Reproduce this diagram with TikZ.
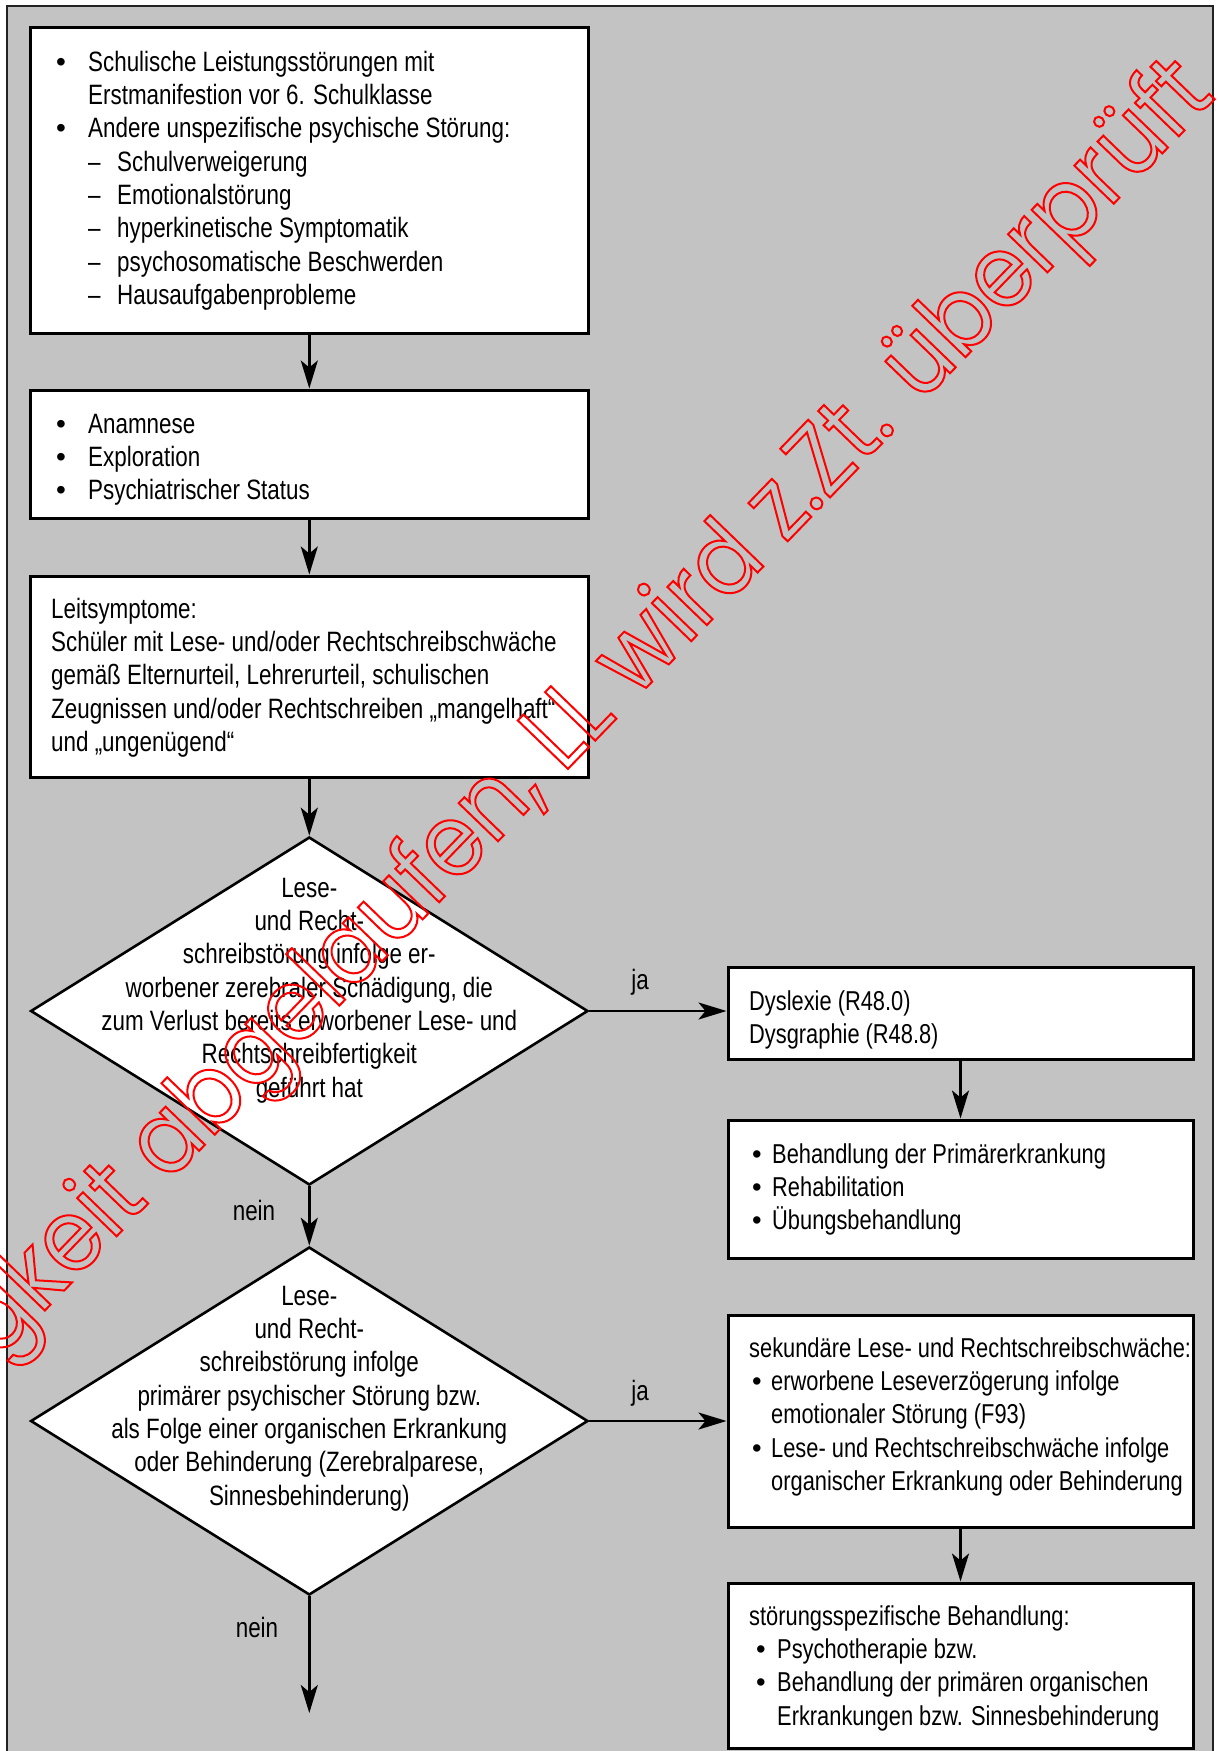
\documentclass[tikz,border=0pt]{standalone}
\usepackage{fontspec}
\setmainfont{Liberation Sans}[FakeStretch=0.8]
\newfontfamily\bulfont{Liberation Sans}
\newfontfamily\wmfont{Poppins}[FakeStretch=0.91]
\usetikzlibrary{shapes.geometric,arrows.meta}
\definecolor{bg}{RGB}{195,195,195}
\definecolor{wmred}{RGB}{255,0,0}
\definecolor{frm}{RGB}{34,34,34}
\newcommand\bul[1]{\makebox[#1][l]{\bulfont •}}
\newcommand\dsh[1]{\makebox[#1][l]{–}}
\tikzset{
 box/.style={draw=black, line width=3pt, fill=white, inner sep=0pt, minimum width=557.4pt},
 rbox/.style={draw=black, line width=3pt, fill=white, inner sep=0pt, minimum width=465pt},
 dia/.style={diamond, draw=black, line width=2.6pt, fill=white, inner sep=0pt, minimum width=557.4pt, minimum height=348pt},
 txt/.style={inner sep=0pt, font=\fontsize{28}{33.3}\selectfont, align=left, anchor=north west},
 rtxt/.style={inner sep=0pt, font=\fontsize{27.3}{33.3}\selectfont, align=left, anchor=north west},
 ctxt/.style={inner sep=0pt, font=\fontsize{28}{33.3}\selectfont, align=center, anchor=north},
 lbl/.style={inner sep=0pt, font=\fontsize{28}{33.3}\selectfont, anchor=base},
 arr/.style={line width=2.5pt, -{Stealth[length=28pt,width=17pt,inset=7pt]}},
 wm/.style={inner sep=0pt, text=wmred, font=\wmfont\fontsize{100}{100}\selectfont},
}
\begin{document}
\begin{tikzpicture}[x=1pt,y=-1pt]
\useasboundingbox (0,0) rectangle (1218,1751);
\clip (0,0) rectangle (1218,1751);
\fill[white] (0,0) rectangle (1218,1751);
\fill[bg] (7,6) rectangle (1213,1760);
\draw[frm, line width=2.5pt] (7,1760) -- (7,6) -- (1213,6) -- (1213,1760);

% left column
\node[box, minimum height=306pt] (b1) at (309.3,180) {};
\node[box, minimum height=128pt] (b2) at (309.3,454) {};
\node[box, minimum height=201pt] (b3) at (309.3,676.5) {};
\node[dia] (d1) at (309.3,1011) {};
\node[dia] (d2) at (309.3,1421) {};
\coordinate (end) at (309.3,1713);

% right column
\node[rbox, minimum height=92pt] (r1) at (960.5,1013) {};
\node[rbox, minimum height=138pt] (r2) at (960.5,1189) {};
\node[rbox, minimum height=212pt] (r3) at (960.5,1421) {};
\node[rbox, minimum height=165pt] (r4) at (960.5,1665.5) {};

% texts
\node[txt] (t1) at (56,47.7) {\strut\bul{32pt}Schulische Leistungsstörungen mit\\
\hspace*{32pt}Erstmanifestion vor 6. Schulklasse\\
\bul{32pt}Andere unspezifische psychische Störung:\\
\hspace*{32pt}\dsh{29pt}Schulverweigerung\\
\hspace*{32pt}\dsh{29pt}Emotionalstörung\\
\hspace*{32pt}\dsh{29pt}hyperkinetische Symptomatik\\
\hspace*{32pt}\dsh{29pt}psychosomatische Beschwerden\\
\hspace*{32pt}\dsh{29pt}Hausaufgabenprobleme};

\node[txt] (t2) at (56,409.7) {\strut\bul{32pt}Anamnese\\
\bul{32pt}Exploration\\
\bul{32pt}Psychiatrischer Status};

\node[txt] (t3) at (51,594.7) {\strut Leitsymptome:\\
Schüler mit Lese- und/oder Rechtschreibschwäche\\
gemäß Elternurteil, Lehrerurteil, schulischen\\
Zeugnissen und/oder Rechtschreiben „mangelhaft“\\
und „ungenügend“};

\node[ctxt] (td1) at (309.3,873.7) {\strut Lese-\\
und Recht-\\
schreibstörung infolge er-\\
worbener zerebraler Schädigung, die\\
zum Verlust bereits erworbener Lese- und\\
Rechtschreibfertigkeit\\
geführt hat};

\node[ctxt] (td2) at (309.3,1281.7) {\strut Lese-\\
und Recht-\\
schreibstörung infolge\\
primärer psychischer Störung bzw.\\
als Folge einer organischen Erkrankung\\
oder Behinderung (Zerebralparese,\\
Sinnesbehinderung)};

\node[rtxt] (tr1) at (749,986.7) {\strut Dyslexie (R48.0)\\
Dysgraphie (R48.8)};

\node[rtxt] (tr2) at (752,1139.7) {\strut\bul{20pt}Behandlung der Primärerkrankung\\
\bul{20pt}Rehabilitation\\
\bul{20pt}Übungsbehandlung};

\node[rtxt] (tr3) at (749,1333.7) {\strut sekundäre Lese- und Rechtschreibschwäche:\\
\hspace*{3pt}\bul{19pt}erworbene Leseverzögerung infolge\\
\hspace*{22pt}emotionaler Störung (F93)\\
\hspace*{3pt}\bul{19pt}Lese- und Rechtschreibschwäche infolge\\
\hspace*{22pt}organischer Erkrankung oder Behinderung};

\node[rtxt] (tr4) at (749,1601.7) {\strut störungsspezifische Behandlung:\\
\hspace*{7pt}\bul{21pt}Psychotherapie bzw.\\
\hspace*{7pt}\bul{21pt}Behandlung der primären organischen\\
\hspace*{28pt}Erkrankungen bzw. Sinnesbehinderung};

% connectors
\draw[arr] (b1.south) -- (b2.north);
\draw[arr] (b2.south) -- (b3.north);
\draw[arr] (b3.south) -- (d1.north);
\draw[arr] (d1.south) -- (d2.north);
\draw[arr] (d2.south) -- (end);
\draw[arr] (d1.east) -- (d1.east -| r1.west);
\draw[arr] (r1.south) -- (r2.north);
\draw[arr] (d2.east) -- (d2.east -| r3.west);
\draw[arr] (r3.south) -- (r4.north);

\node[lbl] (ja1) at (640,989) {ja};
\node[lbl] (ja2) at (640,1400) {ja};
\node[lbl] (nein1) at (254,1220) {nein};
\node[lbl] (nein2) at (257,1637) {nein};

% watermark
\node[wm, rotate=46, anchor=base west] (wm) at (563,774) {\special{pdf:literal direct 1 Tr 2 w}\llap{gkeit abgelaufen, }LL wird z.Zt. überprüft\special{pdf:literal direct 0 Tr}};
\end{tikzpicture}
\end{document}
